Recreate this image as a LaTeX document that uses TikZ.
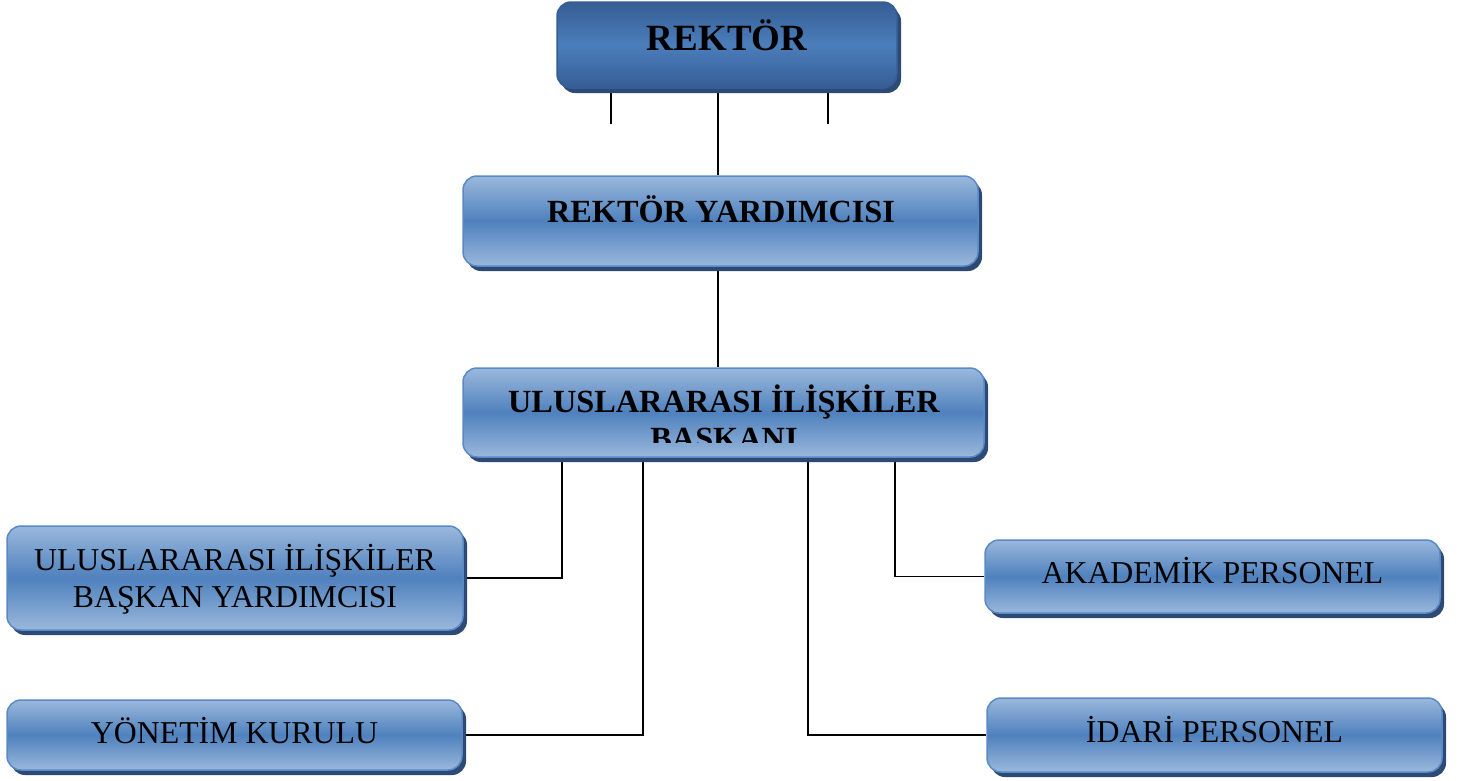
\documentclass[tikz,border=0pt]{standalone}
\usepackage{fontspec}
\setmainfont{Liberation Serif}
\usetikzlibrary{shadows,backgrounds}
\definecolor{bshadow}{HTML}{2C4A73}
\definecolor{blight}{HTML}{9AB8DC}
\definecolor{bmid}{HTML}{4F81BD}
\definecolor{bedge}{HTML}{5A8AC6}
\definecolor{rtop}{HTML}{355D94}
\definecolor{rmid}{HTML}{4B7EBB}
\tikzset{
  x=1pt, y=-1pt,
  box/.style={rounded corners=14pt, draw=bedge, line width=1.5pt, inner sep=0pt,
    top color=blight, bottom color=blight, middle color=bmid,
    drop shadow={shadow xshift=4pt, shadow yshift=-5pt, fill=bshadow, opacity=1, rounded corners=14pt}},
  topbox/.style={box, draw=rtop, top color=rtop, bottom color=rtop, middle color=rmid},
  conn/.style={draw=black, line width=1.3pt},
  btxt/.style={anchor=base, font=\bfseries\fontsize{32.3}{36}\selectfont},
  ntxt/.style={anchor=base, font=\fontsize{31.8}{37}\selectfont},
}
\begin{document}
\begin{tikzpicture}
\useasboundingbox (0,0) rectangle (1464,780);
% boxes: center, width, height
\node[topbox, minimum width=340pt, minimum height=86pt] (rek) at (727,45) {};
\node[box, minimum width=515pt, minimum height=90pt] (ry) at (720.5,221) {};
\node[box, minimum width=521pt, minimum height=89pt] (bas) at (723.5,412.5) {};
\node[box, minimum width=456pt, minimum height=104pt] (uby) at (235,578) {};
\node[box, minimum width=455pt, minimum height=70pt] (yk) at (234.5,735) {};
\node[box, minimum width=455pt, minimum height=73pt] (ap) at (1212.5,576.5) {};
\node[box, minimum width=455pt, minimum height=74pt] (ip) at (1214.5,735) {};
% texts
\node[anchor=base, font=\bfseries\fontsize{37}{40}\selectfont] (t1) at (727,50) {REKTÖR};
\node[btxt] (t2) at (721,222) {REKTÖR YARDIMCISI};
\begin{scope}
  \clip (463,368) rectangle (984,442);
  \node[btxt] (t3a) at (724,412) {ULUSLARARASI İLİŞKİLER};
  \node[btxt] (t3b) at (724,449) {BAŞKANI};
\end{scope}
\node[ntxt] (t4a) at (235,570) {ULUSLARARASI İLİŞKİLER};
\node[ntxt] (t4b) at (235,607) {BAŞKAN YARDIMCISI};
\node[ntxt] (t5) at (234.5,743) {YÖNETİM KURULU};
\node[ntxt] (t6) at (1212.5,583) {AKADEMİK PERSONEL};
\node[ntxt] (t7) at (1214.5,742) {İDARİ PERSONEL};
% connectors
\coordinate (s1) at (611,124);
\coordinate (s2) at (828,124);
\begin{pgfonlayer}{background}
\draw[conn] (rek.south -| s1) -- (s1);
\draw[conn] (rek.south -| s2) -- (s2);
\draw[conn] (ry.north -| 718,0) -- (718,88);
\draw[conn] (ry.south -| 718,0) -- (bas.north -| 718,0);
\draw[conn] (bas.south -| 562,0) |- (uby.east);
\draw[conn] (bas.south -| 643,0) |- (yk.east);
\draw[conn] (bas.south -| 808,0) |- (ip.west);
\draw[conn] (bas.south -| 895,0) |- (ap.west);
\end{pgfonlayer}
\end{tikzpicture}
\end{document}
